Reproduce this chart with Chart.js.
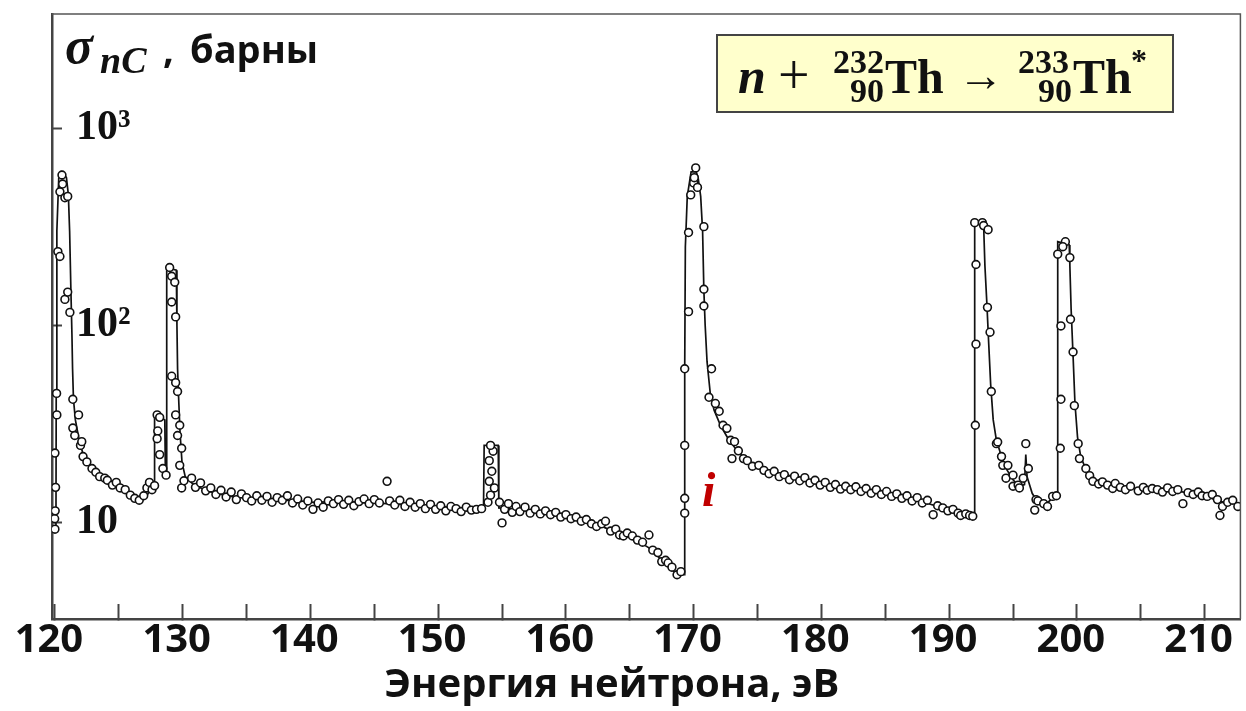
<!DOCTYPE html>
<html><head><meta charset="utf-8">
<script src="https://cdn.jsdelivr.net/npm/chart.js@4.4.1/dist/chart.umd.min.js"></script>
<style>html,body{margin:0;padding:0;background:#fff;}</style>
</head><body>
<canvas id="c" width="1246" height="711"></canvas>
<script>
// ---- tick definitions ----
const xTickValues = [120,125,130,135,140,145,150,155,160,165,170,175,180,185,190,195,200,205,210];
const yTickValues = [10, 100, 1000];
const yTickLabels = ['10', '10²', '10³'];
const xTitle = 'Энергия нейтрона, эВ';

// ---- fitted (histogram-like) curve ----
const fitE = [119.77,120.08,120.1,120.15,120.3,120.55,120.9,121.05,121.15,121.25,121.33,121.38,121.45,121.6,121.9,122.3,122.9,123.6,124.4,125.2,126.0,126.7,127.2,127.6,127.78,127.8,128.3,128.6,128.65,128.73,128.75,129.5,129.55,129.6,129.7,129.8,129.95,130.2,130.8,131.5,132.5,134,136,138,140,142,144,146,148,150,152,153.55,153.6,154.7,154.75,155.5,157,158.5,160,161.5,162.5,163.5,164.5,165.5,166.5,167.3,168,168.7,169.28,169.3,169.35,169.5,169.8,170.2,170.35,170.55,170.7,170.8,170.9,171.05,171.3,171.6,172.1,172.7,173.3,174.0,175,176.3,178,180,182,184,186,188,189.5,191,191.95,192.0,192.7,192.8,192.95,193.1,193.25,193.45,193.7,194.1,194.5,195.0,195.5,195.9,196.0,196.1,196.5,197.0,197.6,198.1,198.45,198.5,199.4,199.45,199.55,199.7,199.85,200.05,200.3,200.7,201.3,202.3,203.5,205,206.5,208,209.5,210.5,211.5,212.8];
const fitS = [9.3,9.3,45,300,560,600,560,460,300,150,90,60,42,33,26,21,18.5,16.8,15.6,14.6,13.6,13.0,13.6,15.2,15.5,35,34,33,17,17,196,190,100,60,40,28,20,17,15.6,14.8,14.0,13.4,13.1,12.9,12.6,12.7,12.6,12.4,12.2,12.0,11.8,11.7,24.5,24.5,11.8,11.7,11.4,11.1,10.7,10.2,9.7,9.1,8.6,8.1,7.4,6.6,6.0,5.4,5.4,60,250,450,600,600,560,450,300,150,100,65,45,37,31,26.5,23.5,21,19.2,18,16.9,15.8,15,14.3,13.5,12.6,11.8,11.1,10.8,330,320,200,130,80,50,33,26,21.5,18.5,16.4,15.2,15.5,22,17,14,12.4,12.4,13.2,13.6,265,255,200,120,70,40,27,21.5,18.5,16.3,15.4,15.0,14.7,14.5,14.3,13.8,13.2,12.6,12.4];

// ---- measured points ----
const ptE = [120.0,119.98,120.02,120.05,120.0,120.15,120.13,120.23,120.39,120.39,120.55,120.6,120.78,121.0,120.78,121.0,121.17,121.4,121.4,121.55,121.85,122.0,122.1,122.2,122.5,122.9,123.2,123.5,123.9,124.1,124.5,124.8,125.1,125.5,125.9,126.25,126.6,126.95,127.2,127.4,127.6,127.8,
128.0,128.2,128.05,128.0,128.2,128.45,128.7,
128.98,129.14,129.38,129.14,129.45,129.14,129.45,129.6,129.45,129.77,129.6,129.92,129.77,129.92,130.1,
130.7,131.0,131.4,131.8,132.2,132.6,133.0,133.4,133.8,134.2,134.6,135.0,135.4,135.8,136.2,136.6,137.0,137.4,137.8,138.2,138.6,139.0,139.4,139.8,140.2,140.6,141.0,141.4,141.8,142.2,142.6,143.0,143.4,143.8,144.2,144.6,145.0,145.4,146.0,146.2,146.6,147.0,147.4,147.8,148.2,148.6,149.0,149.4,149.8,150.2,150.6,151.0,151.4,151.8,152.2,152.6,153.0,153.4,
153.9,154.1,154.4,154.0,154.2,154.0,154.3,154.1,154.8,155.0,155.2,155.5,155.8,156.1,156.4,156.8,157.2,157.6,158.0,158.4,158.8,159.2,159.6,160.0,160.4,160.8,161.2,161.6,162.0,162.4,162.8,163.1,163.5,163.9,164.2,164.5,164.8,165.2,165.6,166.0,166.5,166.8,167.2,167.5,167.8,168.0,168.3,168.7,169.0,
169.3,169.3,169.3,169.3,169.6,169.6,169.77,170.0,170.16,170.05,170.3,170.8,170.8,170.8,171.2,171.4,171.7,172.0,172.3,172.6,172.9,173.0,173.2,173.5,173.9,174.2,174.6,175.1,175.5,175.9,176.3,176.7,177.1,177.5,177.9,178.3,178.7,179.1,179.5,179.9,180.3,180.7,181.1,181.5,181.9,182.3,182.7,183.1,183.5,183.9,184.3,184.7,185.1,185.5,185.9,186.3,186.7,187.1,187.5,187.9,188.3,188.75,189.1,189.5,189.9,190.3,190.7,190.9,191.3,191.6,191.85,
192.05,192.1,192.1,192.0,192.6,192.7,193.05,193.0,193.2,193.3,193.7,193.8,194.1,194.2,194.45,194.6,195.0,195.0,195.4,195.5,195.8,196.0,196.2,196.7,196.8,196.95,197.4,197.7,198.1,198.4,
198.7,198.75,198.75,198.5,199.1,198.9,199.45,199.5,199.7,199.8,200.1,200.2,200.7,201.0,201.25,201.7,202.0,202.4,202.8,203.0,203.4,203.8,204.2,204.8,205.2,205.5,205.9,206.3,206.7,207.1,207.5,207.9,208.3,208.7,209.1,209.5,209.8,210.2,210.6,211.0,211.2,211.4,211.8,212.2,212.6];
const ptS = [9.2,10.4,11.4,15,22.4,35,45,236,223,475,578,520,443,450,135,147,116,42,30,27.5,35,24.5,25.6,21.5,20.2,18.7,17.9,17.0,16.7,16.3,15.4,15.9,14.9,14.6,13.7,13.2,12.9,13.6,14.9,15.9,14.6,15.3,
35,34,29,26.5,22,18.7,17.3,
196,177,165,131,110,55,51,46,35,31,27.5,23.7,19.4,14.9,16.2,
16.7,15.0,15.8,14.4,14.9,13.8,14.5,13.4,14.2,13.0,13.9,13.3,12.8,13.6,12.9,13.5,12.6,13.3,12.9,13.6,12.5,13.1,12.2,12.8,11.6,12.5,11.9,12.8,12.4,13.0,12.3,12.9,12.1,12.7,13.1,12.4,13.0,12.5,16.1,12.8,12.2,12.9,12.0,12.6,11.9,12.4,11.7,12.3,11.6,12.1,11.4,12.0,11.7,11.3,11.9,11.5,11.6,11.7,
12.6,13.7,14.9,16.1,18.1,20.5,22.9,24.5,12.6,9.9,11.6,12.4,11.2,12.0,11.3,11.9,11.1,11.6,11.0,11.4,10.9,11.2,10.6,10.9,10.4,10.6,10.1,10.3,9.8,9.5,9.8,10.1,9.0,9.2,8.6,8.5,8.8,8.5,8.1,7.9,8.6,7.2,7.0,6.3,6.4,6.2,5.9,5.4,5.6,
11.1,13.2,24.5,60,117,295,458,527,628,560,500,316,152,125,43,60,40,36.5,31,29.9,26,21,25.6,23,21,20.5,19.2,19.4,18.3,17.6,18.1,17.0,17.4,16.4,17.1,16.2,16.8,15.8,16.3,15.4,15.9,15.0,15.5,14.7,15.2,14.6,15.1,14.3,14.8,14.0,14.6,13.8,14.3,13.5,13.9,13.2,13.6,12.8,13.3,12.5,12.9,10.9,12.1,11.8,11.4,11.6,11.1,10.8,11.0,10.8,10.7,
31,80,203,331,331,320,305,123,92,46,25,25.5,21.5,19.4,16.7,19.4,15.2,17.3,15.4,14.9,16.7,25,18.7,11.5,13,12.8,12.4,12.0,13.5,13.6,
23.7,42,99,229,265,250,220,107,73,39,25,21,18.7,17.2,16.1,15.6,16.0,15.4,14.8,15.7,15.0,14.6,15.2,14.4,15.0,14.5,14.8,14.6,14.2,14.9,14.3,14.6,12.4,14.1,13.8,14.2,13.6,13.5,13.8,13.0,10.8,12.0,12.6,12.9,12.0];

const fitData = fitE.map((e, i) => ({x: e, y: fitS[i]}));
const ptData = ptE.map((e, i) => ({x: e, y: ptS[i]}));

const zeroPad = (s) => { s.paddingLeft = 0; s.paddingRight = 0; s.paddingTop = 0; s.paddingBottom = 0; };

const overlay = {
  id: 'overlay',
  afterDraw(chart) {
    const ctx = chart.ctx, a = chart.chartArea;
    ctx.save();
    // top & right frame
    ctx.strokeStyle = '#555'; ctx.lineWidth = 1.5;
    ctx.beginPath(); ctx.moveTo(a.left, a.top); ctx.lineTo(a.right, a.top); ctx.lineTo(a.right, a.bottom); ctx.stroke();

    ctx.textBaseline = 'alphabetic'; ctx.textAlign = 'left'; ctx.fillStyle = '#111';
    // y title
    ctx.font = 'italic bold 52px "Liberation Serif"'; ctx.fillText('σ', a.left + 13, a.top + 49);
    ctx.font = 'italic bold 38px "Liberation Serif"'; ctx.fillText('nC', a.left + 48, a.top + 59);
    ctx.font = 'bold 38px "Open Sans"'; ctx.fillText(',', a.left + 111, a.top + 49);
    ctx.fillText('барны', a.left + 138, a.top + 49);

    // reaction box
    const bx = a.left + 665, by = a.top + 21, bw = 456, bh = 77;
    ctx.fillStyle = '#FFFFCC'; ctx.fillRect(bx, by, bw, bh);
    ctx.strokeStyle = '#444'; ctx.lineWidth = 2; ctx.strokeRect(bx, by, bw, bh);
    ctx.fillStyle = '#111';
    ctx.font = 'italic bold 50px "Liberation Serif"'; ctx.fillText('n', bx + 21, by + 58);
    ctx.font = '56px "Liberation Serif"'; ctx.fillText('+', bx + 61, by + 59);
    ctx.font = 'bold 34px "Liberation Serif"'; ctx.textAlign = 'right';
    ctx.fillText('232', bx + 167, by + 38); ctx.fillText('90', bx + 167, by + 67);
    ctx.fillText('233', bx + 352, by + 38); ctx.fillText('90', bx + 355, by + 67);
    ctx.textAlign = 'left';
    ctx.font = 'bold 48px "Liberation Serif"'; ctx.fillText('Th', bx + 168, by + 58);
    ctx.fillText('Th', bx + 356, by + 58);
    ctx.font = 'bold 46px "Liberation Serif"'; ctx.fillText('→', bx + 241, by + 56);
    ctx.font = 'bold 32px "Liberation Serif"'; ctx.fillText('*', bx + 414, by + 36);

    // red label
    ctx.fillStyle = '#C00000';
    ctx.font = 'italic bold 48px "Liberation Serif"'; ctx.fillText('i', a.left + 650, 506);

    // x title
    ctx.fillStyle = '#111'; ctx.textAlign = 'center';
    ctx.font = 'bold 40px "Open Sans"'; ctx.fillText(xTitle, 612, 697);
    ctx.restore();
  }
};

new Chart(document.getElementById('c'), {
  type: 'line',
  data: {
    datasets: [
      { label: 'points', type: 'scatter', data: ptData, order: 1,
        pointStyle: 'circle', pointRadius: 3.9, pointBorderWidth: 1.6,
        pointBackgroundColor: '#fff', pointBorderColor: '#111', showLine: false },
      { label: 'fit', data: fitData, order: 2, borderColor: '#111', borderWidth: 1.7,
        pointRadius: 0, tension: 0, fill: false }
    ]
  },
  options: {
    responsive: false, animation: false, devicePixelRatio: 1,
    layout: { padding: { left: 14, top: 14, right: 3, bottom: 33 } },
    plugins: { legend: { display: false }, tooltip: { enabled: false } },
    scales: {
      x: {
        type: 'linear', min: 119.77, max: 212.8,
        afterBuildTicks: (s) => { s.ticks = xTickValues.map(v => ({ value: v })); },
        afterFit: zeroPad,
        grid: { drawOnChartArea: false, drawTicks: true, tickLength: -15, tickWidth: 2, tickColor: '#444' },
        border: { display: true, color: '#444', width: 2.5 },
        ticks: { autoSkip: false, maxRotation: 0, minRotation: 0, padding: 17, labelOffset: -6, color: '#111',
          font: { family: '"Open Sans", sans-serif', weight: 'bold', size: 40, lineHeight: 1 },
          callback: (v) => (v % 10 === 0 ? String(v) : '') }
      },
      y: {
        type: 'logarithmic', min: 3.22, max: 3795,
        afterBuildTicks: (s) => { s.ticks = yTickValues.map(v => ({ value: v, major: true })); },
        afterFit: zeroPad,
        grid: { drawOnChartArea: false, drawTicks: true, tickLength: -10, tickWidth: 2, tickColor: '#444' },
        border: { display: true, color: '#444', width: 2.5 },
        ticks: { mirror: true, padding: 24, color: '#111',
          font: { family: '"Liberation Serif", serif', weight: 'bold', size: 42, lineHeight: 1 },
          callback: (v) => { const i = yTickValues.indexOf(v); return i >= 0 ? yTickLabels[i] : ''; } }
      }
    }
  },
  plugins: [overlay]
});
</script>
</body></html>
